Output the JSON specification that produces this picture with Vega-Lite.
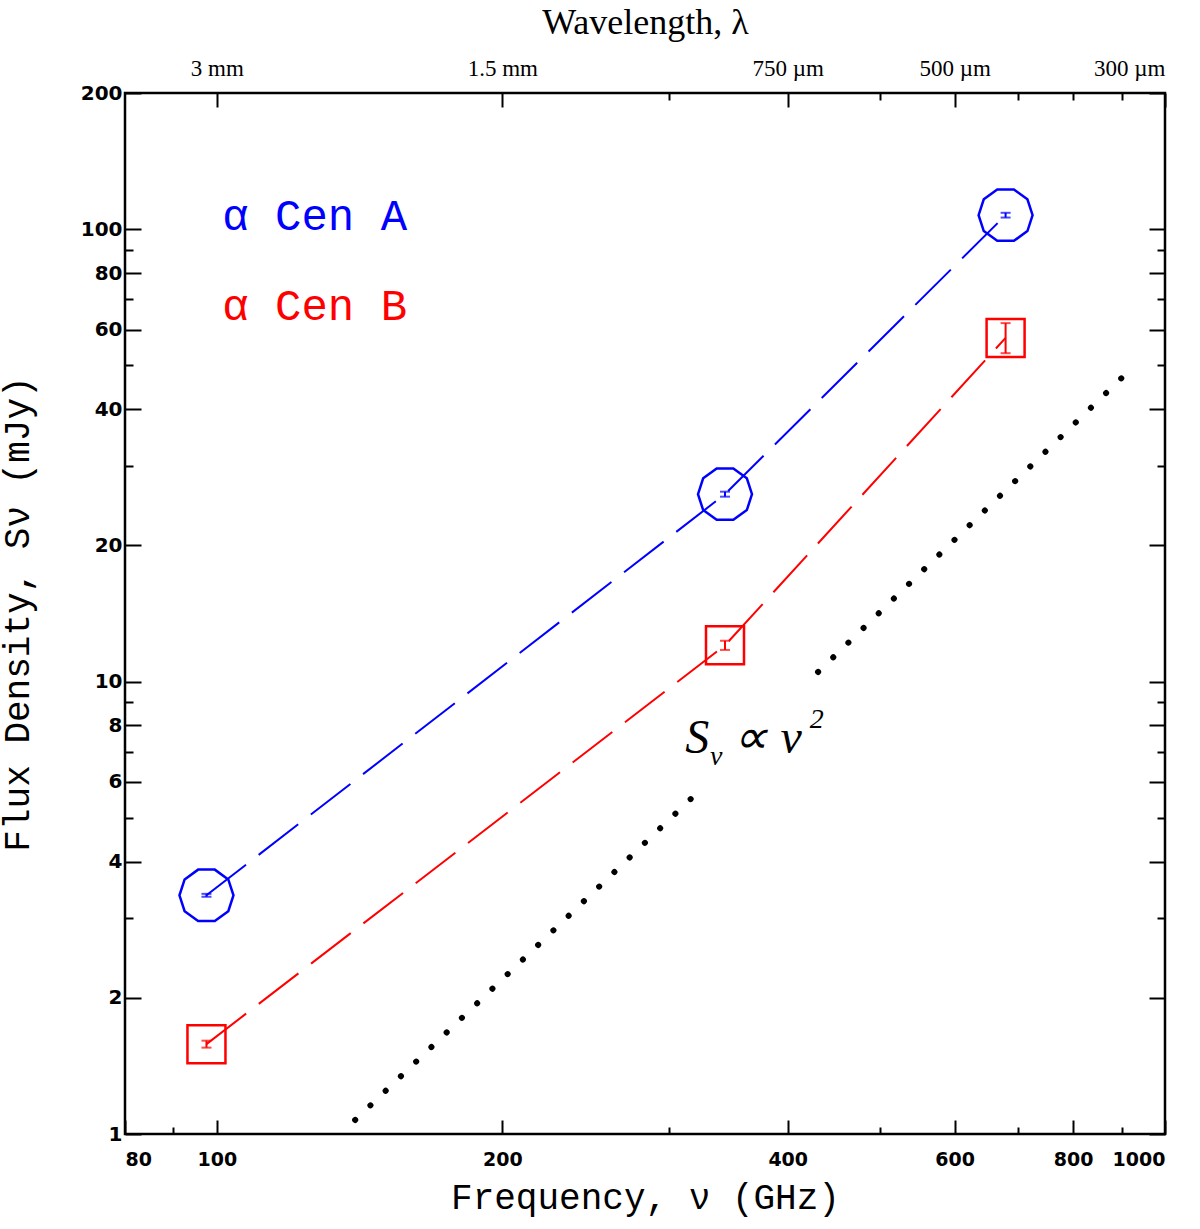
{
  "$schema": "https://vega.github.io/schema/vega-lite/v6.json",
  "width": 1040,
  "height": 1041,
  "autosize": {"type": "none"},
  "padding": {"left": 125, "top": 93, "right": 35, "bottom": 95},
  "background": "white",
  "config": {
    "view": {"stroke": "black", "strokeWidth": 2.5},
    "axis": {
      "domain": false,
      "grid": false,
      "tickColor": "black",
      "tickWidth": 2,
      "labelColor": "black",
      "titleColor": "black"
    }
  },
  "datasets": {
    "pts": [
      {"star": "A", "freq": 97.5, "flux": 3.37, "lo": 3.345, "hi": 3.395},
      {"star": "A", "freq": 343.5, "flux": 25.96, "lo": 25.63, "hi": 26.29},
      {"star": "A", "freq": 679, "flux": 107.4, "lo": 106.1, "hi": 108.7},
      {"star": "B", "freq": 97.5, "flux": 1.58, "lo": 1.552, "hi": 1.608},
      {"star": "B", "freq": 343.5, "flux": 12.03, "lo": 11.75, "hi": 12.31},
      {"star": "B", "freq": 679, "flux": 57.5, "lo": 53.2, "hi": 62.0}
    ],
    "dots": [
      {"seg": 1, "freq": 139.9, "flux": 1.074},
      {"seg": 1, "freq": 323.4, "flux": 5.76},
      {"seg": 2, "freq": 430.6, "flux": 10.5},
      {"seg": 2, "freq": 918.4, "flux": 48.85}
    ],
    "names": [
      {"star": "A", "label": "α Cen A", "freq": 101.3, "flux": 106.4},
      {"star": "B", "label": "α Cen B", "freq": 101.3, "flux": 67.3}
    ],
    "lawBig": [
      {"label": "S", "freq": 311.8, "flux": 6.95},
      {"label": "∝", "freq": 350.0, "flux": 6.95},
      {"label": "ν", "freq": 393.0, "flux": 6.95}
    ],
    "lawSmall": [
      {"label": "ν", "freq": 331.2, "flux": 6.54},
      {"label": "2", "freq": 422.0, "flux": 7.9}
    ]
  },
  "resolve": {"axis": {"x": "independent", "y": "independent"}},
  "layer": [
    {
      "data": {"name": "dots"},
      "mark": {"type": "line", "color": "black", "strokeWidth": 6, "strokeDash": [0.1, 21], "strokeCap": "round"},
      "encoding": {
        "x": {
          "field": "freq", "type": "quantitative",
          "scale": {"type": "log", "domain": [80, 1000], "nice": false},
          "axis": {
            "orient": "bottom",
            "values": [80, 100, 200, 400, 600, 800, 1000],
            "format": "d",
            "tickSize": -14,
            "labelPadding": 30,
            "labelFont": "DejaVu Sans",
            "labelFontWeight": "bold",
            "labelFontSize": 19,
            "title": "Frequency, ν (GHz)",
            "titleFont": "Liberation Mono",
            "titleFontSize": 36,
            "titleFontWeight": "normal",
            "titlePadding": 11
          }
        },
        "y": {
          "field": "flux", "type": "quantitative",
          "scale": {"type": "log", "domain": [1, 200], "nice": false},
          "axis": {
            "orient": "left",
            "values": [1, 2, 4, 6, 8, 10, 20, 40, 60, 80, 100, 200],
            "format": "d",
            "tickSize": -16,
            "labelPadding": 19,
            "labelFont": "DejaVu Sans",
            "labelFontWeight": "bold",
            "labelFontSize": 20,
            "title": "Flux Density, Sν (mJy)",
            "titleFont": "Liberation Mono",
            "titleFontSize": 36,
            "titleFontWeight": "normal",
            "titlePadding": 44
          }
        },
        "detail": {"field": "seg"}
      }
    },
    {
      "data": {"name": "pts"},
      "mark": {"type": "line", "strokeWidth": 2, "strokeDash": [50, 16]},
      "encoding": {
        "x": {
          "field": "freq", "type": "quantitative",
          "scale": {"type": "log", "domain": [80, 1000], "nice": false},
          "axis": {"orient": "bottom", "values": [90, 300, 500, 700, 900], "tickSize": -7, "labels": false, "title": null}
        },
        "y": {
          "field": "flux", "type": "quantitative",
          "scale": {"type": "log", "domain": [1, 200], "nice": false},
          "axis": {"orient": "left", "values": [3, 5, 7, 9, 30, 50, 70, 90], "tickSize": -8, "labels": false, "title": null}
        },
        "color": {"field": "star", "type": "nominal", "scale": {"domain": ["A", "B"], "range": ["#0000ff", "#ff0000"]}, "legend": null}
      }
    },
    {
      "data": {"name": "pts"},
      "mark": {"type": "rule", "strokeWidth": 2},
      "encoding": {
        "x": {
          "field": "freq", "type": "quantitative",
          "scale": {"type": "log", "domain": [80, 1000], "nice": false},
          "axis": {
            "orient": "top",
            "values": [100, 200, 400, 600, 1000],
            "labelExpr": "datum.value == 100 ? '3 mm' : datum.value == 200 ? '1.5 mm' : datum.value == 400 ? '750 µm' : datum.value == 600 ? '500 µm' : '300 µm'",
            "tickSize": -14,
            "labelPadding": 27,
            "labelFont": "Liberation Serif",
            "labelFontSize": 23,
            "title": "Wavelength,  λ",
            "titleFont": "Liberation Serif",
            "titleFontSize": 36,
            "titleFontWeight": "normal",
            "titlePadding": 16
          }
        },
        "y": {
          "field": "lo", "type": "quantitative",
          "scale": {"type": "log", "domain": [1, 200], "nice": false},
          "axis": {"orient": "right", "values": [1, 2, 4, 6, 8, 10, 20, 40, 60, 80, 100, 200], "tickSize": -16, "labels": false, "title": null}
        },
        "y2": {"field": "hi"},
        "color": {"field": "star", "type": "nominal", "scale": {"domain": ["A", "B"], "range": ["#0000ff", "#ff0000"]}, "legend": null}
      }
    },
    {
      "data": {"name": "pts"},
      "mark": {"type": "tick", "orient": "horizontal", "size": 10, "thickness": 2},
      "encoding": {
        "x": {
          "field": "freq", "type": "quantitative",
          "scale": {"type": "log", "domain": [80, 1000], "nice": false},
          "axis": {"orient": "top", "values": [300, 500, 700, 800, 900], "tickSize": -7, "labels": false, "title": null}
        },
        "y": {
          "field": "lo", "type": "quantitative",
          "scale": {"type": "log", "domain": [1, 200], "nice": false},
          "axis": {"orient": "right", "values": [3, 5, 7, 9, 30, 50, 70, 90], "tickSize": -8, "labels": false, "title": null}
        },
        "color": {"field": "star", "type": "nominal", "scale": {"domain": ["A", "B"], "range": ["#0000ff", "#ff0000"]}, "legend": null}
      }
    },
    {
      "data": {"name": "pts"},
      "mark": {"type": "tick", "orient": "horizontal", "size": 10, "thickness": 2},
      "encoding": {
        "x": {"field": "freq", "type": "quantitative", "scale": {"type": "log", "domain": [80, 1000], "nice": false}, "axis": null},
        "y": {"field": "hi", "type": "quantitative", "scale": {"type": "log", "domain": [1, 200], "nice": false}, "axis": null},
        "color": {"field": "star", "type": "nominal", "scale": {"domain": ["A", "B"], "range": ["#0000ff", "#ff0000"]}, "legend": null}
      }
    },
    {
      "data": {"name": "pts"},
      "mark": {"type": "point", "filled": false, "strokeWidth": 2.5, "opacity": 1},
      "encoding": {
        "x": {"field": "freq", "type": "quantitative", "scale": {"type": "log", "domain": [80, 1000], "nice": false}, "axis": null},
        "y": {"field": "flux", "type": "quantitative", "scale": {"type": "log", "domain": [1, 200], "nice": false}, "axis": null},
        "color": {"field": "star", "type": "nominal", "scale": {"domain": ["A", "B"], "range": ["#0000ff", "#ff0000"]}, "legend": null},
        "shape": {
          "field": "star", "type": "nominal", "legend": null,
          "scale": {"domain": ["A", "B"], "range": ["M1,0L0.809,0.588L0.309,0.951L-0.309,0.951L-0.809,0.588L-1,0L-0.809,-0.588L-0.309,-0.951L0.309,-0.951L0.809,-0.588Z", "square"]}
        },
        "size": {
          "field": "star", "type": "nominal", "legend": null,
          "scale": {"domain": ["A", "B"], "range": [2916, 1444]}
        }
      }
    },
    {
      "data": {"name": "names"},
      "mark": {"type": "text", "align": "left", "baseline": "middle", "font": "Liberation Mono", "fontSize": 44},
      "encoding": {
        "x": {"field": "freq", "type": "quantitative", "scale": {"type": "log", "domain": [80, 1000], "nice": false}, "axis": null},
        "y": {"field": "flux", "type": "quantitative", "scale": {"type": "log", "domain": [1, 200], "nice": false}, "axis": null},
        "text": {"field": "label"},
        "color": {"field": "star", "type": "nominal", "scale": {"domain": ["A", "B"], "range": ["#0000ff", "#ff0000"]}, "legend": null}
      }
    },
    {
      "data": {"name": "lawBig"},
      "mark": {"type": "text", "align": "left", "baseline": "alphabetic", "font": "Liberation Serif", "fontStyle": "italic", "fontSize": 48, "color": "black"},
      "encoding": {
        "x": {"field": "freq", "type": "quantitative", "scale": {"type": "log", "domain": [80, 1000], "nice": false}, "axis": null},
        "y": {"field": "flux", "type": "quantitative", "scale": {"type": "log", "domain": [1, 200], "nice": false}, "axis": null},
        "text": {"field": "label"}
      }
    },
    {
      "data": {"name": "lawSmall"},
      "mark": {"type": "text", "align": "left", "baseline": "alphabetic", "font": "Liberation Serif", "fontStyle": "italic", "fontSize": 28, "color": "black"},
      "encoding": {
        "x": {"field": "freq", "type": "quantitative", "scale": {"type": "log", "domain": [80, 1000], "nice": false}, "axis": null},
        "y": {"field": "flux", "type": "quantitative", "scale": {"type": "log", "domain": [1, 200], "nice": false}, "axis": null},
        "text": {"field": "label"}
      }
    }
  ]
}
